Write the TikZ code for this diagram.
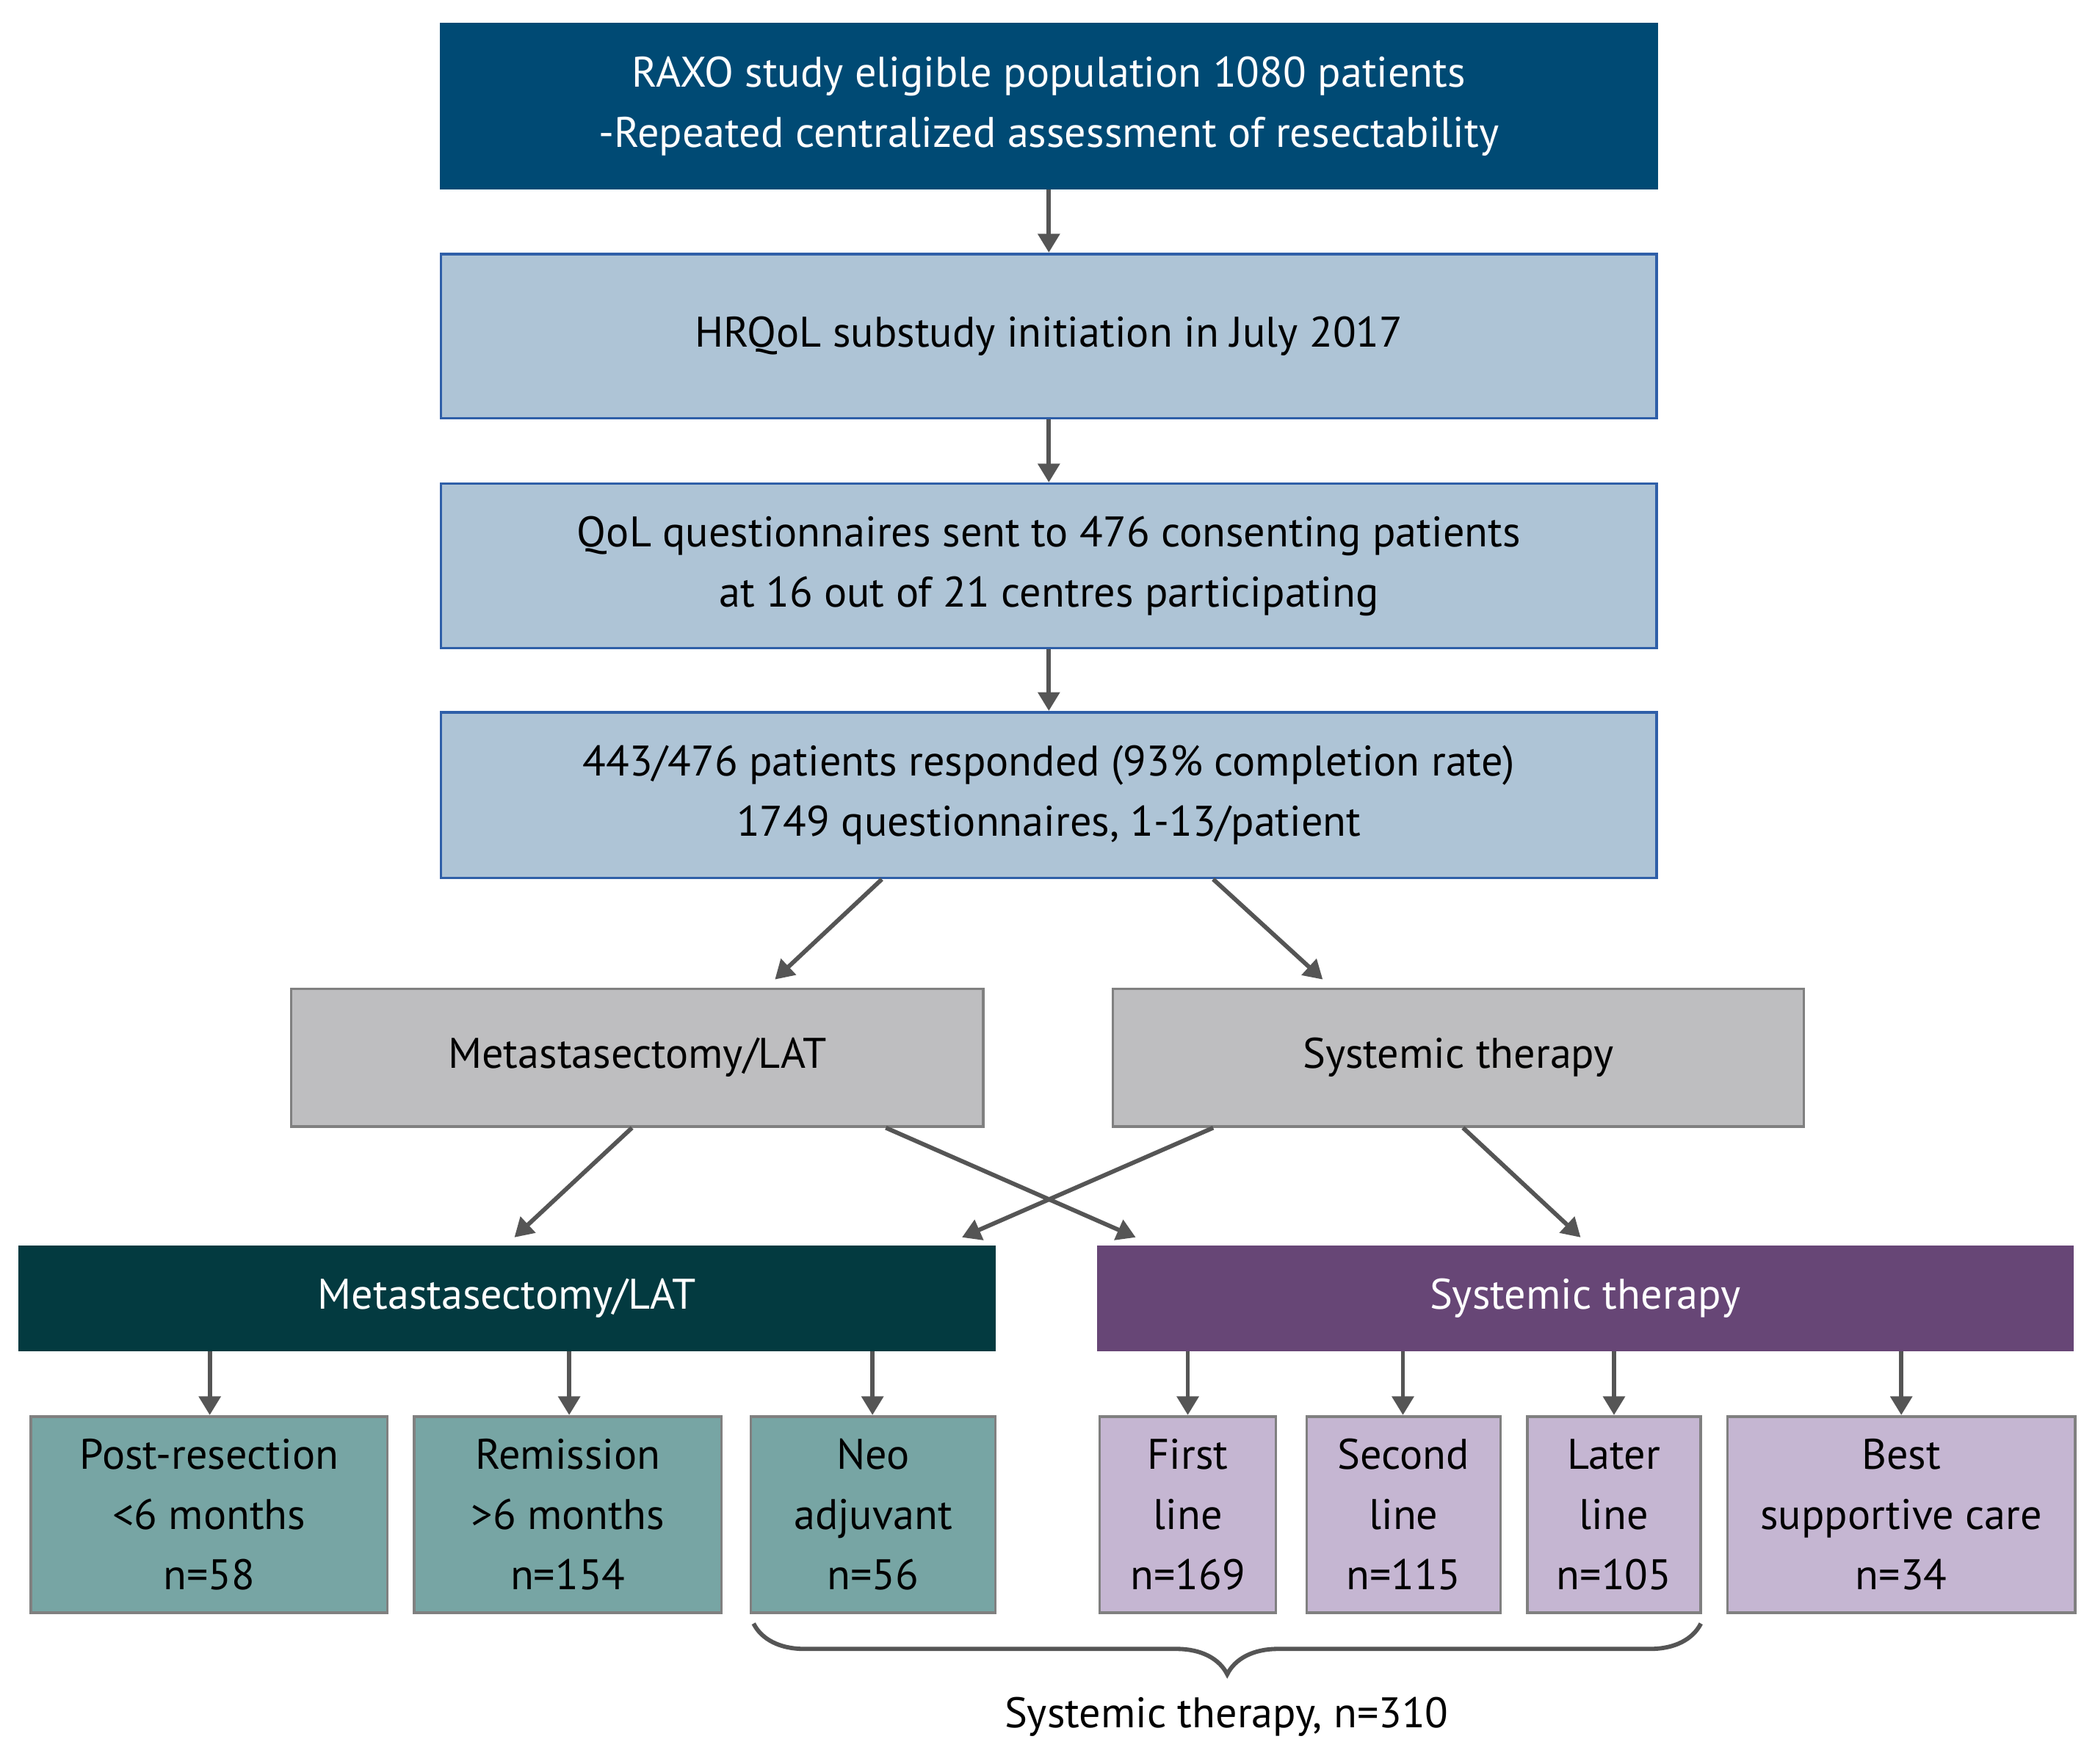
\documentclass[tikz,border=0pt]{standalone}
\usepackage{fontspec}
\setmainfont{PT Sans}
\usetikzlibrary{arrows.meta,decorations.pathreplacing}
\definecolor{dblue}{HTML}{004A74}
\definecolor{lblue}{HTML}{AEC4D6}
\definecolor{bborder}{HTML}{2F5FA8}
\definecolor{gfill}{HTML}{BEBEC0}
\definecolor{dteal}{HTML}{033A40}
\definecolor{purp}{HTML}{674676}
\definecolor{lteal}{HTML}{77A5A4}
\definecolor{lpurp}{HTML}{C5B6D2}
\definecolor{arr}{HTML}{555555}
\begin{document}
\begin{tikzpicture}[x=0.5pt,y=-0.5pt,
  box/.style={draw, line width=1pt, align=center, inner sep=0pt, font=\fontsize{16}{22.5}\selectfont},
  a/.style={draw=arr, line width=1.6pt, -{Triangle[length=7pt,width=8pt]}}]
\useasboundingbox (0,0) rectangle (1568,1320);
\fill[white] (0,0) rectangle (1568,1320);
\node[box, fill=dblue, draw=dblue, text=white, minimum width=455pt, minimum height=61.5pt] (b1) at (785,79.5) {RAXO study eligible population 1080 patients\\-Repeated centralized assessment of resectability};
\node[box, fill=lblue, draw=bborder, minimum width=455pt, minimum height=61.5pt] (b2) at (785,251.5) {HRQoL substudy initiation in July 2017};
\node[box, fill=lblue, draw=bborder, minimum width=455pt, minimum height=61.5pt] (b3) at (785,423.5) {QoL questionnaires sent to 476 consenting patients\\at 16 out of 21 centres participating};
\node[box, fill=lblue, draw=bborder, minimum width=455pt, minimum height=62pt] (b4) at (785,595) {443/476 patients responded (93\% completion rate)\\1749 questionnaires, 1-13/patient};
\draw[a] (b1) -- (b2); \draw[a] (b2) -- (b3); \draw[a] (b3) -- (b4);
\node[box, fill=gfill, draw=gray, minimum width=259pt, minimum height=51.5pt] (g1) at (477,791.5) {Metastasectomy/LAT};
\node[box, fill=gfill, draw=gray, minimum width=258.5pt, minimum height=51.5pt] (g2) at (1091.5,791.5) {Systemic therapy};
\draw[a] (660,658) -- (580,733);
\draw[a] (908,658) -- (990,733);
\node[box, fill=dteal, draw=dteal, text=white, minimum width=364.5pt, minimum height=38.5pt] (t1) at (379.5,971.5) {Metastasectomy/LAT};
\node[box, fill=purp, draw=purp, text=white, minimum width=364.5pt, minimum height=38.5pt] (t2) at (1186.5,971.5) {Systemic therapy};
\draw[a] (473,844) -- (385,926);
\draw[a] (663,844) -- (850,926);
\draw[a] (908,844) -- (720,926);
\draw[a] (1095,844) -- (1183,926);
\tikzset{lt/.style={box, fill=lteal, draw=gray, minimum height=73.5pt},
         lp/.style={box, fill=lpurp, draw=gray, minimum height=73.5pt}}
\node[lt, minimum width=133.5pt] (c1) at (156.5,1133.5) {Post-resection\\<6 months\\n=58};
\node[lt, minimum width=115pt] (c2) at (425,1133.5) {Remission\\>6 months\\n=154};
\node[lt, minimum width=91.5pt] (c3) at (653.5,1133.5) {Neo\\adjuvant\\n=56};
\node[lp, minimum width=66pt] (c4) at (889,1133.5) {First\\line\\n=169};
\node[lp, minimum width=72.5pt] (c5) at (1050.5,1133.5) {Second\\line\\n=115};
\node[lp, minimum width=65pt] (c6) at (1208,1133.5) {Later\\line\\n=105};
\node[lp, minimum width=130pt] (c7) at (1423,1133.5) {Best\\supportive care\\n=34};
\foreach \n/\x/\s in {c1/157/t1,c2/426/t1,c3/653/t1,c4/889/t2,c5/1050/t2,c6/1208/t2,c7/1423/t2}
  \draw[a] (\x,1011) -- (\n.north -| \x,0);
\draw[arr, line width=1.6pt, decorate, decoration={brace, mirror, amplitude=19pt, aspect=0.5}] (564,1215) -- (1273,1215) coordinate (br);
\node[font=\fontsize{16}{20}\selectfont] (lbl) at (918,1285) {Systemic therapy, n=310};
\end{tikzpicture}
\end{document}
